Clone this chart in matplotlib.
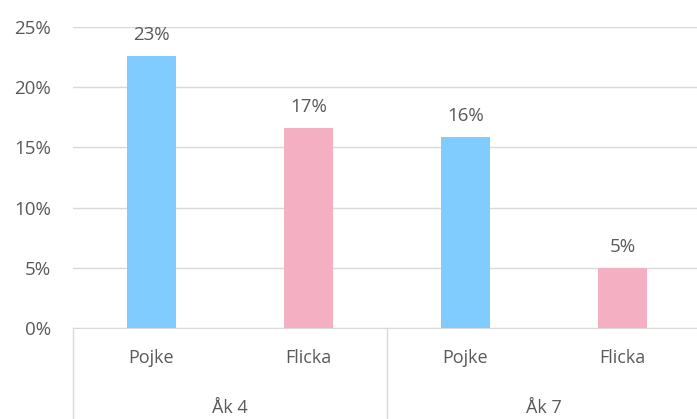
import numpy as np
import matplotlib.pyplot as plt

groups = ["Åk 4", "Åk 7"]
genders = ["Pojke", "Flicka", "Pojke", "Flicka"]
values = [22.6, 16.6, 15.9, 5.0]
colors = ["#80CBFF", "#F4AFC2", "#80CBFF", "#F4AFC2"]

plt.rcParams['font.family'] = ['Open Sans', 'DejaVu Sans']
txt = "#595959"
grid = "#d9d9d9"

fig = plt.figure(figsize=(6.97, 4.19), dpi=100)
ax = fig.add_axes([73/697, 1-328/419, 628/697, (328-27)/419])

x = np.arange(len(values))
ax.bar(x, values, width=0.31, color=colors, zorder=2)
for xi, v in zip(x, values):
    ax.text(xi, v + 1.0, "%d%%" % round(v), ha='center', va='bottom',
            fontsize=13.5, color=txt)

ax.set_xlim(-0.5, 3.5)
ax.set_ylim(0, 25)
ax.set_yticks(np.arange(0, 26, 5))
ax.set_yticklabels(["%d%%" % t for t in range(0, 26, 5)])
ax.yaxis.grid(True, color=grid, linewidth=1, zorder=0)
ax.tick_params(axis='y', length=0, pad=16, labelsize=13.5, labelcolor=txt)
ax.set_xticks([])
for s in ["top", "right", "left"]:
    ax.spines[s].set_visible(False)
ax.spines["bottom"].set_color(grid)

# category labels and separators
tr = ax.get_xaxis_transform()
for xi, g in zip(x, genders):
    ax.text(xi, -0.10, g, transform=tr, ha='center', va='center',
            fontsize=13, color=txt)
for i, g in enumerate(groups):
    ax.text(2*i + 0.5, -0.266, g, transform=tr, ha='center', va='center',
            fontsize=13, color=txt)
for sx in [-0.5, 1.5, 3.5]:
    ax.plot([sx, sx], [0, -0.31], color=grid, lw=1, transform=tr, clip_on=False)

fig.savefig("out.png", dpi=100)
